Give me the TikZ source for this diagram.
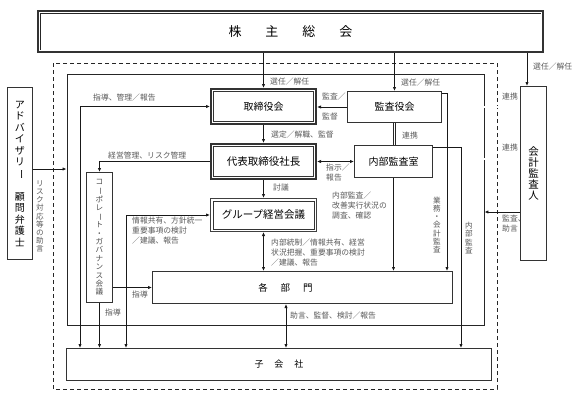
\documentclass[tikz,border=0pt]{standalone}
\usepackage{fontspec}
\setmainfont{Noto Sans CJK JP}
\usepackage{graphicx}
\usetikzlibrary{calc,arrows.meta}
\tikzset{>={Latex[length=4pt,width=3.4pt]}}
\tikzset{
  box/.style={draw=black!80, line width=1pt, inner sep=0pt, font=\fontsize{10}{12}\selectfont},
  wire/.style={draw=black!90, line width=0.8pt},
  twin/.style={draw=black!85, line width=0.6pt, double, double distance=1.2pt},
  note/.style={text=black!65, inner sep=0pt, font=\fontsize{7.8}{9.7}\selectfont, align=left},
  vnote/.style={note, align=center, font=\fontsize{7.6}{8.2}\selectfont},
}
\newcommand{\tatebar}{\rotatebox[origin=c]{-90}{ー}}

\begin{document}
\begin{tikzpicture}[x=1pt,y=-1pt]
\useasboundingbox (0,0) rectangle (587,402);

% Draw the dashed line and the frame of the group
\draw[black!85, line width=0.9pt, dash pattern=on 4pt off 3pt] (53,63) rectangle (497,389);
\node[draw=black!85, line width=0.9pt, minimum width=417pt, minimum height=251pt] (grp) at (275.5,199.5) {};

% Draw the boxes
\node[box, line width=2.2pt, minimum width=505pt, minimum height=41pt, font=\fontsize{13}{15}\selectfont] (agm) at (290.5,31.5) {株\hspace{24pt}主\hspace{24pt}総\hspace{24pt}会};
\draw[twin, line width=0.5pt] ($(agm.north west)+(4.2pt,-4.2pt)$) rectangle ($(agm.south east)+(-4.2pt,4.2pt)$);

\node[box, line width=2.4pt, minimum width=104.6pt, minimum height=34.6pt] (bod) at (263.5,106.5) {取締役会};
\node[box, line width=2.4pt, minimum width=104.6pt, minimum height=34.6pt, font=\fontsize{10.5}{12}\selectfont] (ceo) at (263.5,161.5) {代表取締役社長};
\node[box, draw=black!75, line width=1.4pt, minimum width=105.6pt, minimum height=32.6pt, font=\fontsize{10.5}{12}\selectfont] (gmm) at (263.5,215) {グループ経営会議};
\foreach \n in {bod,ceo}
  \draw[black!80, line width=0.7pt] ($(\n.north west)+(3.7pt,-3.7pt)$) rectangle ($(\n.south east)+(-3.7pt,3.7pt)$);
\draw[black!80, line width=0.6pt] ($(gmm.north west)+(3pt,-3pt)$) rectangle ($(gmm.south east)+(-3pt,3pt)$);

\node[box, minimum width=94pt, minimum height=31pt] (kansa) at (394.5,107) {監査役会};
\node[box, minimum width=78pt, minimum height=32pt] (audit) at (393.5,161.5) {内部監査室};
\node[box, minimum width=300pt, minimum height=32pt, label={[font=\fontsize{9.5}{11}\selectfont, xshift=-17pt]center:各\hspace{13pt}部\hspace{13pt}門}] (kakubu) at (302.5,287.5) {};
\node[box, minimum width=425pt, minimum height=32pt, font=\fontsize{9}{11}\selectfont] (kogaisha) at (279,364.5) {子\hspace{11pt}会\hspace{11pt}社};
\node[box, minimum width=26pt, minimum height=130pt, align=center, text=black!70, font=\fontsize{7.6}{8.4}\selectfont] (cgc) at (99.5,237.5) {コ\\\tatebar\\ポ\\レ\\\tatebar\\ト\\・\\ガ\\バ\\ナ\\ン\\ス\\会\\議};
\node[box, minimum width=25pt, minimum height=172pt, align=center, font=\fontsize{10}{11.5}\selectfont] (adv) at (20,173.5) {ア\\ド\\バ\\イ\\ザ\\リ\\\tatebar\\[11.5pt]顧\\問\\弁\\護\\士};
\node[box, minimum width=26pt, minimum height=174pt, align=center, font=\fontsize{10.5}{11.2}\selectfont] (cpa) at (533.5,173.5) {会\\計\\監\\査\\人};

% Draw the arrows from the general meeting
\draw[wire,->] (agm.south -| bod.north) -- (bod.north);
\draw[wire,->] (agm.south -| kansa.north) -- (kansa.north);
\draw[wire,->] (agm.south -| 527,0) -- (cpa.north -| 527,0);

% Draw the arrows between the boards
\draw[wire,->] (kansa.west) -- (kansa.west -| bod.east);
\draw[wire,->] (bod.south) -- (ceo.north);
\draw[wire,->] (ceo.south) -- (gmm.north);
\draw[wire,<->] (ceo.east) -- (audit.west);
\draw[wire,<->] (gmm.south) -- (gmm.south |- kakubu.north);
\draw[wire,<->] (kakubu.south -| 286,0) -- (kogaisha.north -| 286,0);

% Draw the double lines for the cooperation
\draw[twin] (kansa.south) -- (kansa.south |- audit.north);
\draw[twin] (kansa.east) -- (kansa.east -| cpa.west);
\draw[twin] (audit.east |- 0,159) -- (cpa.west |- 0,159);

% Draw the audit lines
\draw[wire,->] (audit.south) -- (audit.south |- kakubu.north);
\draw[wire,->] (kansa.east |- 0,93) -| (kakubu.north -| 447,0);
\draw[wire,->] (audit.east |- 0,147) -| (kogaisha.north -| 461,0);
\draw[wire,->] (cpa.west |- 0,212) -- (grp.east |- 0,212);
\draw[wire,->] (adv.east |- 0,169) -- (grp.west |- 0,169);

% Draw the lines on the left side
\draw[wire,<->] (bod.west) -| (kogaisha.north -| 80,0);
\draw[wire,->] (ceo.west) -| (cgc.north);
\draw[wire,->] (cgc.east |- kakubu.west) -- (kakubu.west);
\draw[wire,->] (cgc.south) -- (cgc.south |- kogaisha.north);
\draw[wire,<->] (gmm.west) -| (kogaisha.north -| 126,0);

% Add labels for the lines
\node[note, anchor=west] (lsen1) at (270,82) {選任／解任};
\node[note, anchor=west] (lsen2) at (401,83) {選任／解任};
\node[note, anchor=west] (lsen3) at (533,67) {選任／解任};
\node[note, anchor=west] (lshido1) at (93,98) {指導、管理／報告};
\node[note, anchor=west] (lkansa1) at (322,97) {監査／};
\node[note, anchor=west] (lkantoku) at (322,117) {監督};
\node[note, anchor=west] (lsentei) at (271,135) {選定／解職、監督};
\node[note, anchor=west] (lren1) at (402,136) {連携};
\node[note, anchor=west] (lren2) at (502,97) {連携};
\node[note, anchor=west] (lren3) at (502,148) {連携};
\node[note, anchor=west] (lkeiei) at (108,156) {経営管理、リスク管理};
\node[note, anchor=north west] (lshiji) at (326,164) {指示／\\報告};
\node[note, anchor=west] (ltogi) at (273,188) {討議};
\node[note, anchor=north west] (lnaibu1) at (332,192) {内部監査／\\改善実行状況の\\調査、確認};
\node[note, anchor=north west] (ljoho1) at (132,217) {情報共有、方針統一\\重要事項の検討\\／建議、報告};
\node[note, anchor=north west] (ljoho2) at (271,239) {内部統制／情報共有、経営\\状況把握、重要事項の検討\\／建議、報告};
\node[note, anchor=west] (lshido2) at (132,295) {指導};
\node[note, anchor=west] (lshido3) at (105,313) {指導};
\node[note, anchor=west] (ljogen) at (290,316) {助言、監督、検討／報告};
\node[note, anchor=north west] (lkansa2) at (502,215) {監査、\\助言};
\node[vnote] (lrisk) at (40,216.5) {リ\\ス\\ク\\対\\応\\等\\の\\助\\言};
\node[vnote] (lgyomu) at (437,225) {業\\務\\・\\会\\計\\監\\査};
\node[vnote] (lnaibu2) at (469,238) {内\\部\\監\\査};
\end{tikzpicture}
\end{document}
